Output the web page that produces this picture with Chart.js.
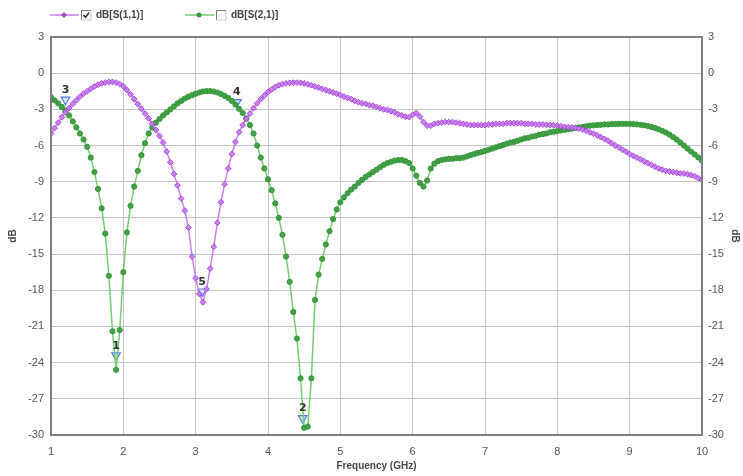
<!DOCTYPE html>
<html lang="en">
<head>
    <meta charset="UTF-8">
    <title>S-parameters</title>
    <script src="https://cdn.jsdelivr.net/npm/chart.js"></script>
    <style>
        html, body { margin: 0; padding: 0; background: #fff; }
        #sparChart { display: block; }
    </style>
</head>
<body>
    <canvas id="sparChart" width="743" height="476"></canvas>
    <script>
        // frequency sweep: 1 .. 10 GHz, 0.05 GHz step
        const FREQ_START = 1.0;
        const FREQ_STEP = 0.05;

        // dB[S(1,1)]
        const s11 = [
            -5.0, -4.55, -4.1, -3.65, -3.25, -2.9, -2.55, -2.25, -1.95, -1.7,
            -1.5, -1.3, -1.1, -0.95, -0.85, -0.78, -0.73, -0.72, -0.78, -0.9,
            -1.1, -1.4, -1.75, -2.15, -2.55, -2.95, -3.35, -3.75, -4.2, -4.7,
            -5.2, -5.75, -6.5, -7.4, -8.35, -9.3, -10.4, -11.4, -12.8, -15.2,
            -17.0, -18.3, -19.0, -17.9, -16.2, -14.4, -12.4, -10.7, -9.2, -7.9,
            -6.7, -5.7, -4.9, -4.3, -3.8, -3.35, -2.9, -2.5, -2.15, -1.85,
            -1.55, -1.35, -1.15, -1.0, -0.9, -0.85, -0.8, -0.78, -0.78, -0.8,
            -0.85, -0.92, -1.0, -1.1, -1.2, -1.3, -1.4, -1.5, -1.6, -1.7,
            -1.8, -1.95, -2.05, -2.15, -2.3, -2.4, -2.5, -2.55, -2.65, -2.7,
            -2.8, -2.9, -3.0, -3.05, -3.15, -3.25, -3.4, -3.5, -3.6, -3.65,
            -3.45, -3.3, -3.6, -4.05, -4.35, -4.35, -4.2, -4.15, -4.1, -4.05,
            -4.05, -4.05, -4.1, -4.15, -4.2, -4.25, -4.3, -4.3, -4.3, -4.3,
            -4.3, -4.25, -4.25, -4.2, -4.2, -4.2, -4.15, -4.15, -4.15, -4.15,
            -4.15, -4.2, -4.2, -4.2, -4.25, -4.25, -4.25, -4.28, -4.3, -4.32,
            -4.35, -4.4, -4.45, -4.48, -4.5, -4.55, -4.6, -4.68, -4.78, -4.9,
            -5.02, -5.15, -5.3, -5.45, -5.6, -5.8, -6.0, -6.15, -6.35, -6.5,
            -6.7, -6.85, -7.0, -7.15, -7.3, -7.45, -7.6, -7.75, -7.9, -8.0,
            -8.1, -8.15, -8.2, -8.25, -8.3, -8.32, -8.38, -8.45, -8.55, -8.7,
            -8.85
        ];

        // dB[S(2,1)]
        const s21 = [
            -2.0, -2.25, -2.5, -2.8, -3.1, -3.5, -4.0, -4.5, -5.0, -5.5,
            -6.1, -7.0, -8.2, -9.6, -11.2, -13.3, -16.8, -21.4, -24.6, -21.3,
            -16.5, -13.2, -11.0, -9.4, -8.1, -6.8, -5.8, -5.0, -4.5, -4.1,
            -3.8, -3.5, -3.25, -3.0, -2.75, -2.5, -2.3, -2.1, -1.95, -1.82,
            -1.7, -1.6, -1.52, -1.48, -1.48, -1.52, -1.6, -1.72, -1.88, -2.05,
            -2.3, -2.6, -2.95, -3.3, -3.75, -4.3, -5.0, -6.0, -7.0, -7.9,
            -8.8, -9.7, -10.8, -12.0, -13.4, -15.2, -17.3, -19.8, -22.0, -25.3,
            -29.4, -29.3, -25.3, -18.8, -16.7, -15.4, -14.2, -13.1, -12.1, -11.3,
            -10.7, -10.3, -9.95, -9.65, -9.4, -9.1, -8.85, -8.6, -8.4, -8.2,
            -8.0, -7.8, -7.6, -7.45, -7.35, -7.25, -7.2, -7.2, -7.3, -7.45,
            -7.9, -8.5, -9.1, -9.4, -8.9, -7.9, -7.5, -7.3, -7.2, -7.15,
            -7.1, -7.1, -7.05, -7.05, -7.0, -6.9, -6.8, -6.7, -6.6, -6.55,
            -6.45, -6.35, -6.25, -6.15, -6.05, -5.95, -5.85, -5.75, -5.7, -5.6,
            -5.5, -5.4, -5.35, -5.25, -5.2, -5.1, -5.05, -5.0, -4.9, -4.85,
            -4.8, -4.75, -4.7, -4.65, -4.6, -4.55, -4.5, -4.45, -4.4, -4.35,
            -4.32, -4.3, -4.28, -4.25, -4.25, -4.22, -4.22, -4.2, -4.2, -4.2,
            -4.2, -4.22, -4.25, -4.28, -4.32, -4.38, -4.45, -4.55, -4.65, -4.78,
            -4.92, -5.1, -5.3, -5.5, -5.75, -6.0, -6.25, -6.5, -6.75, -7.0,
            -7.25
        ];

        // markers 1..5
        const markerNames = ['1', '2', '3', '4', '5'];
        const markerFreq = [1.9, 4.48, 1.2, 3.57, 3.09];
        const markerDb = [-23.4, -28.6, -2.2, -2.4, -18.1];

        const xTicks = [1, 2, 3, 4, 5, 6, 7, 8, 9, 10];
        const yTicks = [3, 0, -3, -6, -9, -12, -15, -18, -21, -24, -27, -30];

        const toPoints = vals => vals.map((v, i) => ({
            x: +(FREQ_START + i * FREQ_STEP).toFixed(2), y: v
        }));
        const markerPoints = markerFreq.map((f, i) => ({ x: f, y: markerDb[i] }));

        const tickFont = { family: 'Liberation Sans', size: 11 };
        const titleFont = { family: 'Liberation Sans', size: 10, weight: 'bold' };

        // plot frame on all four sides
        const framePlugin = {
            id: 'frame',
            afterDatasetsDraw(chart) {
                const { ctx, chartArea: a } = chart;
                ctx.save();
                ctx.strokeStyle = '#7e7e7e';
                ctx.lineWidth = 2;
                ctx.strokeRect(a.left, a.top, a.right - a.left, a.bottom - a.top);
                ctx.restore();
            }
        };

        // numbers above the marker triangles
        const markerLabelPlugin = {
            id: 'markerLabels',
            afterDatasetsDraw(chart) {
                const meta = chart.getDatasetMeta(2);
                const ctx = chart.ctx;
                ctx.save();
                ctx.font = 'bold 11px "DejaVu Sans"';
                ctx.fillStyle = '#333';
                ctx.textAlign = 'center';
                ctx.textBaseline = 'bottom';
                meta.data.forEach((pt, i) => {
                    ctx.fillText(markerNames[i], pt.x, pt.y - 4);
                });
                ctx.restore();
            }
        };

        // legend row with the little check boxes
        const legendPlugin = {
            id: 'topLegend',
            afterDraw(chart) {
                const ctx = chart.ctx;
                const y = 15;
                const items = [
                    { x: 50, line: '#c880ee', mark: '#a845d8', style: 'diamond', checked: true, text: 'dB[S(1,1)]' },
                    { x: 185, line: '#70cf70', mark: '#3b9b3b', style: 'circle', checked: false, text: 'dB[S(2,1)]' }
                ];
                ctx.save();
                items.forEach(it => {
                    ctx.strokeStyle = it.line;
                    ctx.lineWidth = 1.5;
                    ctx.beginPath();
                    ctx.moveTo(it.x, y);
                    ctx.lineTo(it.x + 29, y);
                    ctx.stroke();
                    const cx = it.x + 14;
                    ctx.fillStyle = it.mark;
                    ctx.beginPath();
                    if (it.style === 'diamond') {
                        ctx.moveTo(cx, y - 3); ctx.lineTo(cx + 3, y);
                        ctx.lineTo(cx, y + 3); ctx.lineTo(cx - 3, y);
                        ctx.closePath();
                    } else {
                        ctx.arc(cx, y, 2.5, 0, Math.PI * 2);
                    }
                    ctx.fill();
                    // check box
                    const bx = it.x + 31, by = y - 5;
                    ctx.fillStyle = '#fff';
                    ctx.fillRect(bx, by, 10, 10);
                    ctx.strokeStyle = '#777';
                    ctx.lineWidth = 1;
                    ctx.beginPath();
                    ctx.moveTo(bx + 0.5, by + 10);
                    ctx.lineTo(bx + 0.5, by + 0.5);
                    ctx.lineTo(bx + 10, by + 0.5);
                    ctx.stroke();
                    ctx.strokeStyle = '#ccc';
                    ctx.beginPath();
                    ctx.moveTo(bx + 10, by + 0.5);
                    ctx.lineTo(bx + 10, by + 10);
                    ctx.lineTo(bx + 0.5, by + 10);
                    ctx.stroke();
                    if (it.checked) {
                        ctx.strokeStyle = '#333';
                        ctx.lineWidth = 1.6;
                        ctx.beginPath();
                        ctx.moveTo(bx + 2.5, by + 5);
                        ctx.lineTo(bx + 4.5, by + 7.5);
                        ctx.lineTo(bx + 8, by + 2.5);
                        ctx.stroke();
                    }
                    ctx.fillStyle = '#444';
                    ctx.font = 'bold 10px "Liberation Sans"';
                    ctx.textBaseline = 'middle';
                    ctx.fillText(it.text, bx + 15, y + 0.5);
                });
                ctx.restore();
            }
        };

        const gridDotted = {
            color: '#c4c4c4',
            lineWidth: 1,
            borderDash: [2, 3],
            drawTicks: false
        };

        const ctx = document.getElementById('sparChart').getContext('2d');
        const sparChart = new Chart(ctx, {
            type: 'line',
            data: {
                datasets: [{
                    label: 'dB[S(1,1)]',
                    data: toPoints(s11),
                    borderColor: '#cc80f0',
                    borderWidth: 1.5,
                    pointStyle: 'rectRot',
                    pointRadius: 2.9,
                    pointBorderWidth: 1,
                    pointBorderColor: '#a947dc',
                    pointBackgroundColor: 'rgba(200,120,238,0.85)',
                    yAxisID: 'y'
                }, {
                    label: 'dB[S(2,1)]',
                    data: toPoints(s21),
                    borderColor: '#70d070',
                    borderWidth: 1.5,
                    pointStyle: 'circle',
                    pointRadius: 2.6,
                    pointBorderWidth: 1,
                    pointBorderColor: '#36963a',
                    pointBackgroundColor: '#41a243',
                    yAxisID: 'y'
                }, {
                    label: 'markers',
                    data: markerPoints,
                    showLine: false,
                    pointStyle: 'triangle',
                    rotation: 180,
                    pointRadius: 5,
                    pointBorderWidth: 1.2,
                    pointBorderColor: '#5577ee',
                    pointBackgroundColor: 'rgba(205,220,255,0.8)',
                    yAxisID: 'y'
                }]
            },
            options: {
                responsive: false,
                animation: false,
                layout: { padding: { top: 37 } },
                plugins: {
                    legend: { display: false },
                    tooltip: { enabled: false }
                },
                scales: {
                    x: {
                        type: 'linear',
                        min: 1,
                        max: 10,
                        afterBuildTicks: s => { s.ticks = xTicks.map(v => ({ value: v })); },
                        afterFit: s => { s.height = 41; },
                        grid: gridDotted,
                        border: { display: false },
                        ticks: { color: '#555', font: tickFont, padding: 10 },
                        title: {
                            display: true, text: 'Frequency (GHz)', color: '#444',
                            font: titleFont, padding: { top: 0, bottom: 4 }
                        }
                    },
                    y: {
                        position: 'left',
                        min: -30,
                        max: 3,
                        afterBuildTicks: s => { s.ticks = yTicks.map(v => ({ value: v })); },
                        afterFit: s => { s.width = 51; },
                        grid: gridDotted,
                        border: { display: false },
                        ticks: { color: '#555', font: tickFont, padding: 7 },
                        title: {
                            display: true, text: 'dB', color: '#444',
                            font: titleFont, padding: { top: 7, bottom: 0 }
                        }
                    },
                    y2: {
                        position: 'right',
                        min: -30,
                        max: 3,
                        afterBuildTicks: s => { s.ticks = yTicks.map(v => ({ value: v })); },
                        afterFit: s => { s.width = 41; },
                        grid: { display: false, drawTicks: false },
                        border: { display: false },
                        ticks: { color: '#555', font: tickFont, padding: 6 },
                        title: {
                            display: true, text: 'dB', color: '#444',
                            font: titleFont, padding: { top: 2, bottom: 0 }
                        }
                    }
                }
            },
            plugins: [framePlugin, markerLabelPlugin, legendPlugin]
        });
    </script>
</body>
</html>
